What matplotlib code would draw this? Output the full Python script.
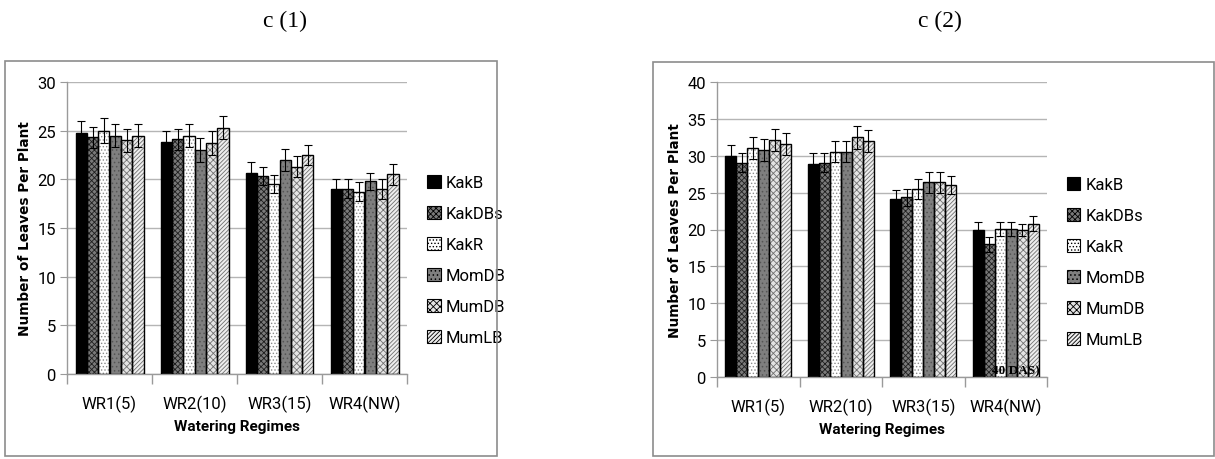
import numpy as np
import matplotlib
matplotlib.use("Agg")
import matplotlib.pyplot as plt
from matplotlib.patches import Rectangle, Patch

categories = ["WR1(5)", "WR2(10)", "WR3(15)", "WR4(NW)"]
series = ["KakB", "KakDBs", "KakR", "MomDB", "MumDB", "MumLB"]

# c (1)
c1_KakB   = [24.8, 23.8, 20.7, 19.0]
c1_KakDBs = [24.3, 24.1, 20.35, 19.05]
c1_KakR   = [25.0, 24.5, 19.5, 18.75]
c1_MomDB  = [24.5, 23.0, 22.0, 19.8]
c1_MumDB  = [24.0, 23.75, 21.3, 19.0]
c1_MumLB  = [24.5, 25.3, 22.5, 20.5]
c1_err = [[1.2, 1.15, 1.1, 1.0], [1.1, 1.1, 0.9, 0.95], [1.3, 1.2, 0.9, 0.95],
          [1.2, 1.2, 1.1, 0.9], [1.2, 1.2, 1.1, 1.0], [1.2, 1.2, 1.05, 1.05]]

# c (2)
c2_KakB   = [30.0, 28.9, 24.2, 20.0]
c2_KakDBs = [29.05, 29.05, 24.35, 18.0]
c2_KakR   = [31.1, 30.55, 25.5, 20.05]
c2_MomDB  = [30.8, 30.55, 26.4, 20.05]
c2_MumDB  = [32.1, 32.5, 26.4, 19.9]
c2_MumLB  = [31.6, 32.0, 26.0, 20.8]
c2_err = [[1.5, 1.45, 1.2, 1.0], [1.3, 1.3, 1.1, 1.0], [1.5, 1.4, 1.3, 0.95],
          [1.5, 1.4, 1.45, 0.95], [1.5, 1.6, 1.45, 0.8], [1.5, 1.5, 1.25, 1.0]]

c1_vals = [c1_KakB, c1_KakDBs, c1_KakR, c1_MomDB, c1_MumDB, c1_MumLB]
c2_vals = [c2_KakB, c2_KakDBs, c2_KakR, c2_MomDB, c2_MumDB, c2_MumLB]

plt.rcParams["font.family"] = ["Roboto", "DejaVu Sans"]
plt.rcParams["hatch.linewidth"] = 0.6

# (face, hatch, hatch colour)
styles = [
    ("#000000", None, "#000000"),
    ("#7a7a7a", "xxxxxx", "#1e1e1e"),
    ("#ffffff", ".....", "#8a8a8a"),
    ("#7f7f7f", "....", "#555555"),
    ("#e4e4e4", "xxxxx", "#707070"),
    ("#eeeeee", "////////", "#707070"),
]

fig = plt.figure(figsize=(12.15, 4.6), dpi=100)

# frames
fig.add_artist(Rectangle((5/1215, 3/460), (497-5)/1215, (398-3)/460,
                         transform=fig.transFigure, fill=False, ec="#8c8c8c", lw=1.2))
fig.add_artist(Rectangle((653/1215, 3/460), (1214-653)/1215, (397-3)/460,
                         transform=fig.transFigure, fill=False, ec="#8c8c8c", lw=1.2))

fig.text(285/1215, 1-21/460, "c (1)", family="Liberation Serif", fontsize=17, ha="center", va="center")
fig.text(940/1215, 1-21/460, "c (2)", family="Liberation Serif", fontsize=17, ha="center", va="center")

def panel(rect, vals, errs, ymax, leg_x):
    ax = fig.add_axes(rect)
    x = np.arange(len(categories))
    w = 0.8 / len(series)
    for i, (v, e) in enumerate(zip(vals, errs)):
        pos = x - 0.4 + w * (i + 0.5)
        face, hatch, hc = styles[i]
        ax.bar(pos, v, w, color=face, hatch=hatch, edgecolor=hc, linewidth=0, zorder=2)
        ax.bar(pos, v, w, fill=False, edgecolor="black", linewidth=1.0, zorder=3)
        ax.errorbar(pos, v, yerr=e, fmt="none", ecolor="black", elinewidth=0.8,
                    capsize=3, capthick=0.8, zorder=4)
    ax.set_xlim(-0.5, len(categories) - 0.5)
    ax.set_ylim(0, ymax)
    ax.set_yticks(np.arange(0, ymax + 1, 5))
    ax.set_xticks(x)
    ax.set_xticklabels(categories)
    ax.set_xticks(np.arange(-0.5, len(categories)), minor=True)
    ax.tick_params(axis="x", which="major", length=0, pad=15, labelsize=12)
    ax.tick_params(axis="x", which="minor", length=7, color="#9a9a9a", width=1)
    ax.tick_params(axis="y", length=5, color="#9a9a9a", labelsize=12, pad=3)
    ax.yaxis.grid(True, color="#b5b5b5", lw=1, zorder=0)
    ax.set_axisbelow(True)
    for s in ["top", "right"]:
        ax.spines[s].set_visible(False)
    for s in ["left", "bottom"]:
        ax.spines[s].set_color("#9a9a9a")
        ax.spines[s].set_linewidth(1)
    ax.set_xlabel("Watering Regimes", fontweight="bold", fontsize=11, labelpad=5)
    ax.set_ylabel("Number of Leaves Per Plant", fontweight="bold", fontsize=9.8,
                  family="DejaVu Sans", labelpad=4)
    handles = []
    for i, s in enumerate(series):
        face, hatch, hc = styles[i]
        handles.append(Patch(facecolor=face, hatch=hatch, edgecolor="black", lw=0.8))
    ax.legend(handles, series, loc="center left", bbox_to_anchor=(leg_x, 0.39),
              frameon=False, fontsize=12, handlelength=0.8, handleheight=0.8,
              handletextpad=0.3, labelspacing=0.95, borderaxespad=0, borderpad=0)
    return ax

ax1 = panel([67/1215, 85/460, 340/1215, 292/460], c1_vals, c1_err, 30, 1.06)
ax2 = panel([717/1215, 82/460, 330/1215, 295/460], c2_vals, c2_err, 40, 1.06)
ax2.text(3.12, 0.9, "40 DAS)", family="Liberation Serif", fontweight="bold",
         fontsize=9.5, ha="center", va="center", zorder=6)

fig.savefig("out.png", dpi=100)
